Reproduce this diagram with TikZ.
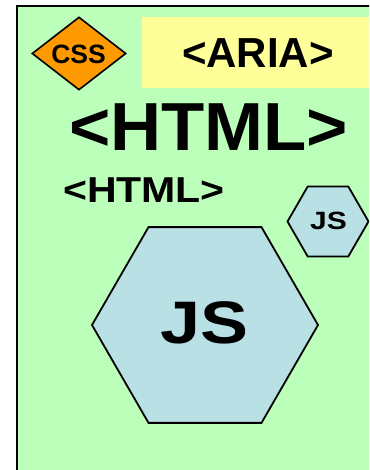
\documentclass[tikz,border=0pt]{standalone}
\usepackage{fontspec}
\setmainfont{Liberation Sans}
\usetikzlibrary{shapes.geometric}
\definecolor{pagegreen}{HTML}{BBFFBB}
\definecolor{jsblue}{HTML}{B9E0E4}
\definecolor{cssorange}{HTML}{FF9900}
\definecolor{ariayellow}{HTML}{FFFF99}
\newcommand{\widetext}[2]{\scalebox{#1}[1]{#2}}

\begin{document}
\begin{tikzpicture}[x=1pt, y=-1pt,
  jshex/.style={regular polygon, regular polygon sides=6, draw, fill=jsblue,
    line width=1.8pt, inner sep=0pt},
  label text/.style={inner sep=0pt, text depth=0pt}]
  % page frame, clipped on the right and bottom
  \useasboundingbox (0,0) rectangle (369,470);
  \clip (0,0) rectangle (369,470);
  \draw[line width=2.4pt, fill=pagegreen] (17,6) rectangle (400,500);
  % top row: CSS diamond and ARIA band
  \node[diamond, draw, fill=cssorange, line width=1.6pt, inner sep=0pt,
    minimum width=94pt, minimum height=73pt] (css) at (79,53.5) {};
  \node[label text, font=\fontsize{26.5}{28}\selectfont\bfseries] (csstext) at (78.5,54.5) {CSS};
  \node[fill=ariayellow, inner sep=0pt, minimum width=232pt, minimum height=71pt] (aria) at (258,52.5) {};
  \node[label text, font=\fontsize{42}{44}\selectfont\bfseries] (ariatext) at (258,53) {<ARIA>};
  % HTML titles
  \node[label text, font=\fontsize{68}{70}\selectfont\bfseries] (htmlbig) at (208.5,127.5) {\widetext{1.04}{<HTML>}};
  \node[label text, font=\fontsize{36}{38}\selectfont\bfseries] (htmlsmall) at (144,190) {\widetext{1.14}{<HTML>}};
  % JS hexagons
  \node[jshex, minimum size=81pt] (jssmall) at (328,221.5) {};
  \node[label text, font=\fontsize{25}{27}\selectfont\bfseries] (jssmalltext) at (328.5,221) {\widetext{1.2}{JS}};
  \node[jshex, minimum size=226pt] (jsbig) at (205,325) {};
  \node[label text, font=\fontsize{60}{62}\selectfont\bfseries] (jsbigtext) at (204.5,322.5) {\widetext{1.2}{JS}};
\end{tikzpicture}
\end{document}
